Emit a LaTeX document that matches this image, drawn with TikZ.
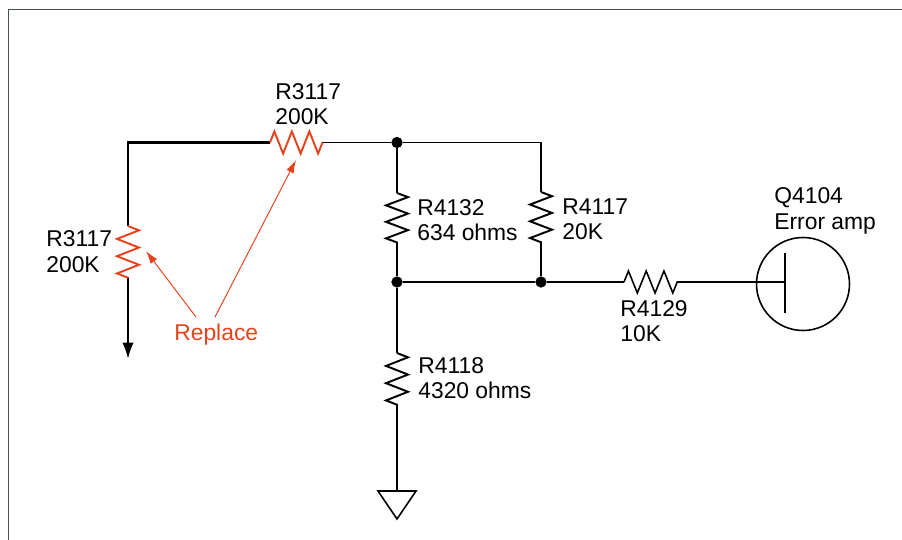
\documentclass[tikz,border=0pt]{standalone}
\usepackage{fontspec}
\setmainfont{Liberation Sans}
\usetikzlibrary{decorations.pathmorphing, arrows.meta}
\definecolor{replacered}{RGB}{232,66,28}
\definecolor{framegray}{RGB}{70,80,78}
\tikzset{
  wire/.style={line width=1.3pt},
  thinwire/.style={line width=0.9pt},
  resistor/.style={line width=1.1pt,decorate,decoration={zigzag,amplitude=0.22cm,segment length=#1}},
  resistor/.default=0.33cm,
  dot/.style={draw,circle,fill=black,inner sep=0pt,minimum size=0.21cm},
  lbl/.style={anchor=west,align=left,inner sep=0pt,font=\fontsize{13}{14.4}\selectfont},
  pointer/.style={replacered,line width=0.55pt,-{Latex[length=0.26cm,width=0.16cm]}}
}
\begin{document}
\begin{tikzpicture}[x=0.02cm,y=-0.02cm]
\useasboundingbox (0,0) rectangle (902,540);
\draw[framegray,line width=1pt] (8.5,540) -- (8.5,9.5) -- (902,9.5);

\coordinate (corner) at (128,142.5);
\coordinate (r1a) at (128,226);
\coordinate (r1b) at (128,278);
\coordinate (out) at (128,359);
\coordinate (r2a) at (270,142.5);
\coordinate (r2b) at (323,142.5);
\node[dot](j1) at (397,142.5) {};
\node[dot](j2) at (397,282) {};
\node[dot](j3) at (541,282) {};
\coordinate (c1) at (541,142.5);
\coordinate (r3a) at (397,193);
\coordinate (r3b) at (397,243);
\coordinate (r4a) at (541,192);
\coordinate (r4b) at (541,243);
\coordinate (r5a) at (397,353);
\coordinate (r5b) at (397,405);
\coordinate (r6a) at (624,282);
\coordinate (r6b) at (678,282);
\coordinate (gnd) at (397,491);
\coordinate (gatea) at (785,253);
\coordinate (gateb) at (785,313);
\coordinate (gate) at (785,282);
\node[draw,circle,thinwire,inner sep=0pt,minimum size=1.86cm](q) at (803,284) {};

\draw[wire] (r2a) -- (corner) -- (r1a);
\draw[wire,-{Latex[length=0.33cm,width=0.23cm]}] (r1b) -- (out);
\draw[thinwire] (r2b) -- (j1);
\draw[thinwire] (j1) -- (c1);
\draw[wire] (c1) -- (r4a);
\draw[wire] (r4b) -- (j3);
\draw[wire] (j1) -- (r3a);
\draw[wire] (r3b) -- (j2);
\draw[wire] (j2) -- (r5a);
\draw[wire] (r5b) -- (gnd);
\draw[thinwire] (j2) -- (j3);
\draw[thinwire] (j3) -- (r6a);
\draw[thinwire] (r6b) -- (gate);
\draw[thinwire] (gatea) -- (gateb);
\draw[thinwire] (378,491) -- (416,491) -- (397,519) -- cycle;

\draw[resistor=0.345cm,replacered] (r1a) -- (r1b);
\draw[resistor=0.35cm,replacered] (r2a) -- (r2b);
\draw[resistor] (r3a) -- (r3b);
\draw[resistor=0.335cm] (r4a) -- (r4b);
\draw[resistor=0.345cm] (r5a) -- (r5b);
\draw[resistor=0.355cm,thinwire] (r6a) -- (r6b);

\node[lbl](l1) at (275,104) {R3117\\200K};
\node[lbl](l2) at (46,251.5) {R3117\\200K};
\node[lbl](l3) at (417,220) {R4132\\634 ohms};
\node[lbl](l4) at (562,219) {R4117\\20K};
\node[lbl](l5) at (620,321) {R4129\\10K};
\node[lbl](l6) at (418,378) {R4118\\4320 ohms};
\node[lbl](l7) at (774,211) {Q4104\\Error amp};
\node[lbl,text=replacered](replace) at (174,335) {Replace};

\coordinate (p1) at (196,317);
\coordinate (p2) at (215,317);
\coordinate (t1) at (146,251);
\coordinate (t2) at (296,160);
\draw[pointer] (p1) -- (t1);
\draw[pointer] (p2) -- (t2);
\end{tikzpicture}
\end{document}
